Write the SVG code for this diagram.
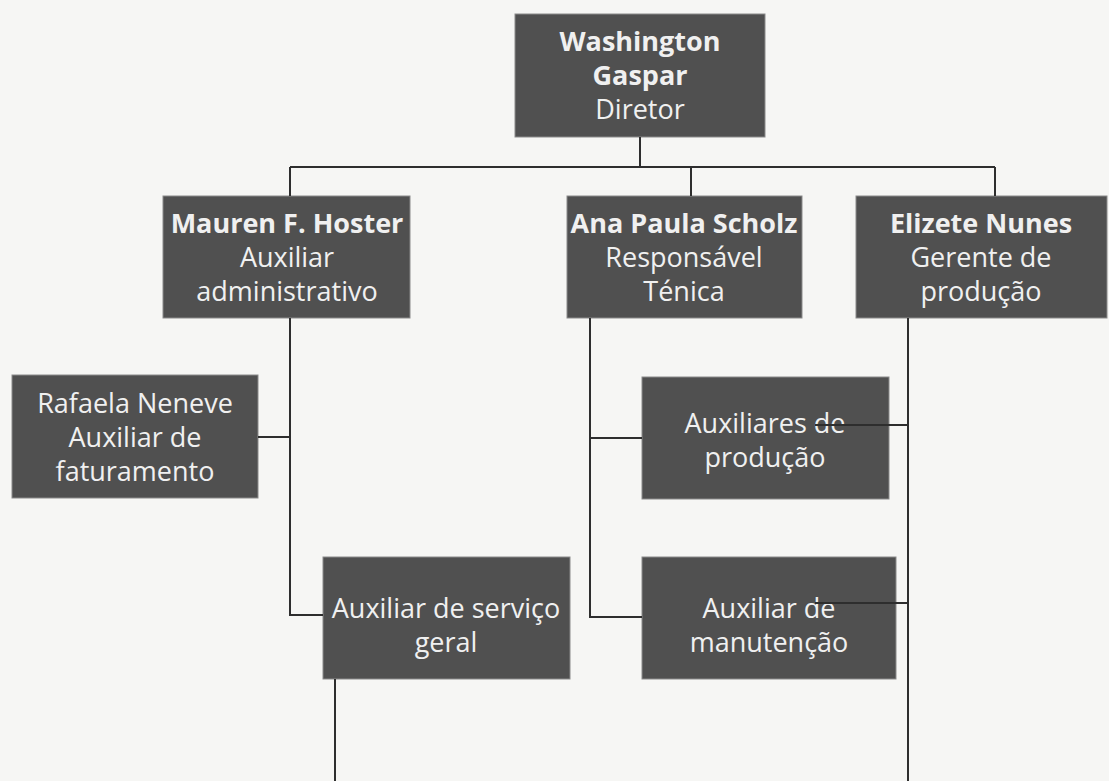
<svg xmlns="http://www.w3.org/2000/svg" width="1109" height="781" viewBox="0 0 1109 781">
<style>
.bg{fill:#f6f6f4}
.box{fill:#505050;stroke:#8a8a8a;stroke-width:1}
.t{font-family:"Open Sans","Noto Sans",sans-serif;font-size:27px;fill:#f0f0f0;text-anchor:middle}
.b{font-weight:bold}
.ln{stroke:#2e2e2e;stroke-width:2;fill:none}
</style>
<rect class="bg" x="0" y="0" width="1109" height="781"/>
<g id="washington">
<rect class="box" x="515" y="14" width="250" height="123"/>
<text class="t b" x="640" y="51">Washington</text>
<text class="t b" x="640" y="85">Gaspar</text>
<text class="t" x="640" y="119">Diretor</text>
</g>
<g id="mauren">
<rect class="box" x="163" y="196" width="247" height="122"/>
<text class="t b" x="287" y="233">Mauren F. Hoster</text>
<text class="t" x="287" y="267">Auxiliar</text>
<text class="t" x="287" y="301">administrativo</text>
</g>
<g id="ana">
<rect class="box" x="567" y="196" width="235" height="122"/>
<text class="t b" x="684" y="233">Ana Paula Scholz</text>
<text class="t" x="684" y="267">Responsável</text>
<text class="t" x="684" y="301">Ténica</text>
</g>
<g id="elizete">
<rect class="box" x="856" y="196" width="251" height="122"/>
<text class="t b" x="981" y="233">Elizete Nunes</text>
<text class="t" x="981" y="267">Gerente de</text>
<text class="t" x="981" y="301">produção</text>
</g>
<g id="rafaela">
<rect class="box" x="12" y="375" width="246" height="123"/>
<text class="t" x="135" y="413">Rafaela Neneve</text>
<text class="t" x="135" y="447">Auxiliar de</text>
<text class="t" x="135" y="481">faturamento</text>
</g>
<g id="aux-producao">
<rect class="box" x="642" y="377" width="247" height="122"/>
<text class="t" x="765" y="433">Auxiliares de</text>
<text class="t" x="765" y="467">produção</text>
</g>
<g id="aux-servico">
<rect class="box" x="323" y="557" width="247" height="122"/>
<text class="t" x="446" y="618">Auxiliar de serviço</text>
<text class="t" x="446" y="652">geral</text>
</g>
<g id="aux-manutencao">
<rect class="box" x="642" y="557" width="254" height="122"/>
<text class="t" x="769" y="618">Auxiliar de</text>
<text class="t" x="769" y="652">manutenção</text>
</g>
<g id="connectors">
<path class="ln" d="M640 137V167M290 167H995M290 167V196M691 167V196M995 167V196"/>
<path class="ln" d="M290 318V615H323M258 437H290"/>
<path class="ln" d="M590 318V617H642M590 438H642"/>
<path class="ln" d="M908 318V781M815 425H908M815 603H908"/>
<path class="ln" d="M335 679V781"/>
</g>
</svg>
